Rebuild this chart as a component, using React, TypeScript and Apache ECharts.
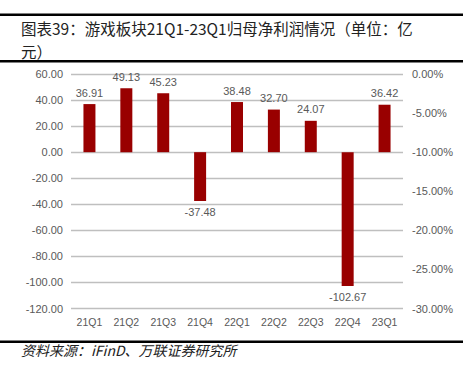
import React, { useEffect, useRef } from "react";
import * as echarts from "echarts";

const categories = ["21Q1", "21Q2", "21Q3", "21Q4", "22Q1", "22Q2", "22Q3", "22Q4", "23Q1"];
const profitValues = [36.91, 49.13, 45.23, -37.48, 38.48, 32.7, 24.07, -102.67, 36.42];
const leftTicks = { min: -120, max: 60, interval: 20 };
const rightTicks = { min: -30, max: 0, interval: 5 };
const titleLines = ["图表39：游戏板块21Q1-23Q1归母净利润情况（单位：亿", "元）"];
const sourceText = "资料来源：iFinD、万联证券研究所";

export default function App() {
  const ref = useRef<HTMLDivElement>(null);
  useEffect(() => {
    if (!ref.current) return;
    const chart = echarts.init(ref.current, undefined, { renderer: "svg" });
    const labelColor = "#595959";
    const titleStyle = { fontSize: 15.5, fill: "#222", fontFamily: "Noto Sans CJK SC" };
    chart.setOption({
      animation: false,
      backgroundColor: "#ffffff",
      textStyle: { fontFamily: "Liberation Sans, Arial, sans-serif" },
      graphic: [
        { type: "rect", shape: { x: 0, y: 13.5, width: 463, height: 2.5 }, style: { fill: "#000" } },
        { type: "rect", shape: { x: 0, y: 60, width: 463, height: 2.5 }, style: { fill: "#000" } },
        { type: "rect", shape: { x: 0, y: 340.5, width: 463, height: 2.5 }, style: { fill: "#000" } },
        {
          type: "text",
          x: 21,
          y: 27.5,
          style: { ...titleStyle, text: titleLines[0], verticalAlign: "middle" },
        },
        {
          type: "text",
          x: 21,
          y: 50.5,
          style: { ...titleStyle, text: titleLines[1], verticalAlign: "middle" },
        },
        {
          type: "text",
          left: 21,
          top: 343,
          style: {
            text: sourceText,
            fontSize: 14,
            fontStyle: "italic",
            fill: "#222",
            fontFamily: "Noto Sans CJK SC",
          },
        },
      ],
      grid: { left: 71, right: 60, top: 74, bottom: 56.5, containLabel: false },
      xAxis: {
        type: "category",
        data: categories,
        axisLine: { show: false },
        axisTick: { show: false },
        axisLabel: { color: labelColor, fontSize: 10.5, margin: 8 },
      },
      yAxis: [
        {
          type: "value",
          min: leftTicks.min,
          max: leftTicks.max,
          interval: leftTicks.interval,
          axisLine: { show: false },
          axisTick: { show: false },
          axisLabel: {
            color: labelColor,
            fontSize: 11,
            margin: 8,
            formatter: (v: number) => v.toFixed(2),
          },
          splitLine: { lineStyle: { color: "#BFBFBF", width: 1.3 } },
        },
        {
          type: "value",
          min: rightTicks.min,
          max: rightTicks.max,
          interval: rightTicks.interval,
          position: "right",
          axisLine: { show: false },
          axisTick: { show: false },
          axisLabel: {
            color: labelColor,
            fontSize: 11,
            margin: 9,
            formatter: (v: number) => v.toFixed(2) + "%",
          },
          splitLine: { show: false },
        },
      ],
      series: [
        {
          type: "bar",
          data: profitValues,
          barWidth: 12,
          itemStyle: { color: "#990000" },
          label: {
            show: true,
            position: "outside",
            color: labelColor,
            fontSize: 11,
            distance: 6,
            formatter: (p: any) => Number(p.value).toFixed(2),
          },
        },
      ],
    });
    return () => chart.dispose();
  }, []);
  return (
    <div
      ref={ref}
      style={{ position: "fixed", left: 0, top: 0, width: 463, height: 365 }}
    />
  );
}
